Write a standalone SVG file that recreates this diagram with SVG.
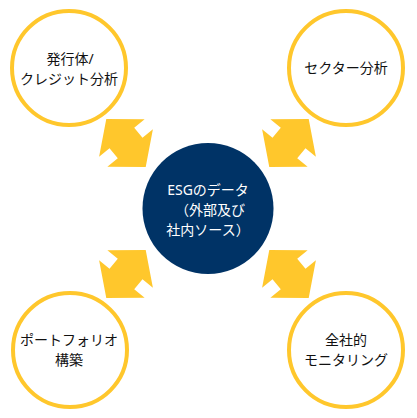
<svg xmlns="http://www.w3.org/2000/svg" width="417" height="418" viewBox="0 0 417 418">
  <style>
    .ring { fill: #FFFFFF; stroke: #FFC72C; stroke-width: 4; }
    .hub { fill: #003366; }
    .arrow { fill: #FFC72C; }
    .lbl { font-family: 'Noto Sans', 'Noto Sans CJK JP', sans-serif; font-size: 14px; fill: #111111; text-anchor: middle; }
    .hubl { font-family: 'Noto Sans', 'Noto Sans CJK JP', sans-serif; font-size: 14px; fill: #FFFFFF; text-anchor: middle; }
  </style>
  <defs>
    <path id="dblArrow" d="M -31,0 L -6.5,-29.5 L -6.5,-16 L 6.5,-16 L 6.5,-29.5 L 31,0 L 6.5,29.5 L 6.5,16 L -6.5,16 L -6.5,29.5 Z"/>
  </defs>
  <rect width="417" height="418" fill="#FFFFFF"/>

  <g id="connectors">
    <use href="#dblArrow" class="arrow" transform="translate(126,143) rotate(50.5)"/>
    <use href="#dblArrow" class="arrow" transform="translate(289,143) rotate(-50.5)"/>
    <use href="#dblArrow" class="arrow" transform="translate(126,274) rotate(-50.5)"/>
    <use href="#dblArrow" class="arrow" transform="translate(289,274) rotate(50.5)"/>
  </g>

  <g id="node-center">
    <circle class="hub" cx="208" cy="208.5" r="65.5"/>
    <text class="hubl" x="208" y="195">ESGのデータ</text>
    <text class="hubl" x="210" y="215">（外部及び</text>
    <text class="hubl" x="208" y="235">社内ソース）</text>
  </g>

  <g id="node-issuer">
    <circle class="ring" cx="69" cy="68" r="57"/>
    <text class="lbl" x="70" y="64">発行体/</text>
    <text class="lbl" x="69" y="84">クレジット分析</text>
  </g>

  <g id="node-sector">
    <circle class="ring" cx="346" cy="68" r="57"/>
    <text class="lbl" x="346" y="73">セクター分析</text>
  </g>

  <g id="node-portfolio">
    <circle class="ring" cx="70" cy="350" r="57"/>
    <text class="lbl" x="69" y="345">ポートフォリオ</text>
    <text class="lbl" x="69" y="365">構築</text>
  </g>

  <g id="node-monitoring">
    <circle class="ring" cx="346" cy="350" r="57"/>
    <text class="lbl" x="346" y="345">全社的</text>
    <text class="lbl" x="346" y="365">モニタリング</text>
  </g>
</svg>
